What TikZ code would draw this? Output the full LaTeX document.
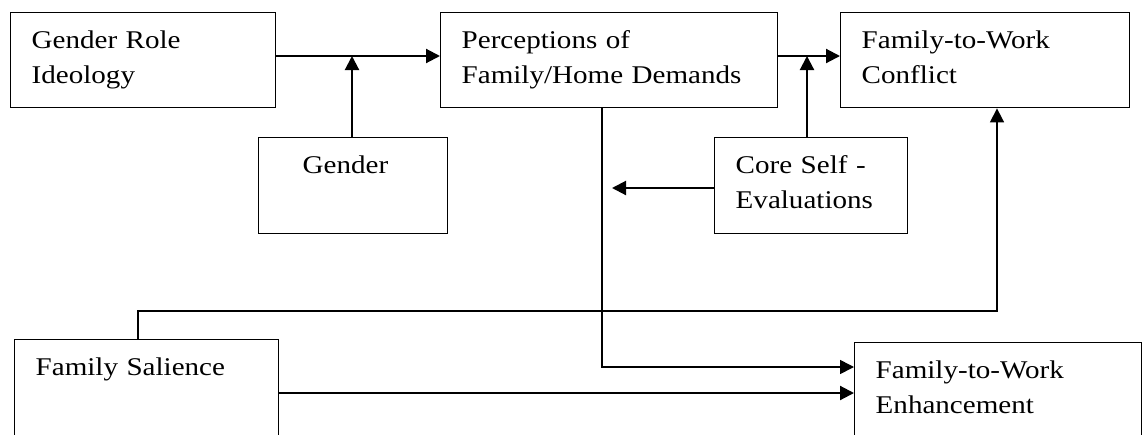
\documentclass[tikz,border=0pt]{standalone}
\usepackage{fontspec}
\setmainfont[FakeStretch=1.14]{Liberation Serif}
\usetikzlibrary{arrows.meta}

\begin{document}
\begin{tikzpicture}[x=1pt, y=-1pt,
    every node/.style={font=\fontsize{25.5}{35}\selectfont},
    box/.style={draw, line width=1.4pt, anchor=north west, align=left,
      inner xsep=21pt, inner ysep=12pt, text height=24pt, text depth=47pt},
    arr/.style={line width=2.1pt, -{Triangle[length=14pt,width=14pt]}},
    link/.style={line width=1.6pt, -{Triangle[length=14pt,width=14pt]}}]
    \useasboundingbox (0,0) rectangle (1142,434);

    \node[box, text width=223pt] (gri) at (10,12) {Gender Role\\Ideology};
    \node[box, text width=295pt] (pfd) at (440,12) {Perceptions of\\Family/Home Demands};
    \node[box, text width=247pt] (fwc) at (840,12) {Family-to-Work\\Conflict};
    \node[box, text width=101pt, inner xsep=44pt, text depth=48pt] (gen) at (258,137) {Gender};
    \node[box, text width=151pt, text depth=48pt] (cse) at (714,137) {Core Self -\\Evaluations};
    \node[box, text width=222pt, text depth=49pt] (fsal) at (14,339) {Family Salience};
    \node[box, text width=245pt, text depth=49pt] (fwe) at (854,342) {Family-to-Work\\Enhancement};

    \coordinate (m1) at (352,56);
    \coordinate (m2) at (807,56);
    \coordinate (cs-tip) at (612,188);
    \coordinate (d1) at (602,367);
    \coordinate (s1) at (138,311);
    \coordinate (s2) at (997,311);
    \coordinate (e1) at (0,393);

    \draw[arr] (gri.east |- m1) -- (pfd.west |- m1);
    \draw[arr] (gen.north -| m1) -- (m1);
    \draw[arr] (pfd.east |- m2) -- (fwc.west |- m2);
    \draw[arr] (cse.north -| m2) -- (m2);
    \draw[arr] (cse.west |- cs-tip) -- (cs-tip);
    \draw[link] (pfd.south -| d1) |- (fwe.west |- d1);
    \draw[link] (fsal.north -| s1) |- (s2) -- (fwc.south -| s2);
    \draw[arr] (fsal.east |- e1) -- (fwe.west |- e1);
\end{tikzpicture}
\end{document}
